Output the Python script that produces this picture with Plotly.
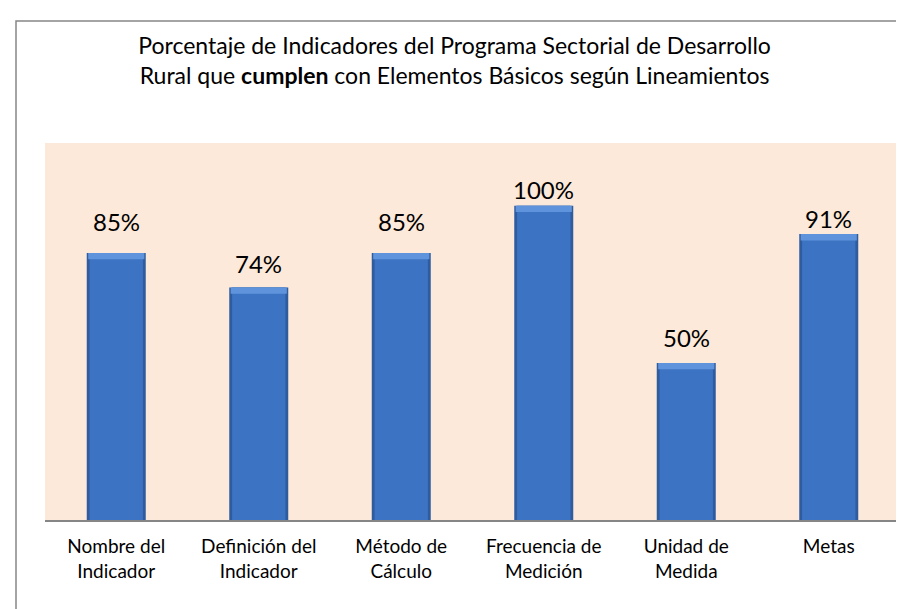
import plotly.graph_objects as go

categorias = ["Nombre del<br>Indicador", "Definición del<br>Indicador", "Método de<br>Cálculo",
              "Frecuencia de<br>Medición", "Unidad de<br>Medida", "Metas"]
porcentajes = [0.85, 0.74, 0.85, 1.00, 0.50, 0.91]
# distancia (px) del centro de la etiqueta a la barra, como en el original
desfase_etiqueta = [31, 24, 31, 16, 25, 16]

font = "Lato, 'Open Sans', sans-serif"
ancho = 0.414  # fracción de la categoría ocupada por la barra

fig = go.Figure()
# cuerpo de la barra (borde más oscuro)
fig.add_trace(go.Bar(x=categorias, y=porcentajes, width=ancho,
                     marker=dict(color="#2E5C9E", line=dict(width=0)), hoverinfo="skip"))
# relleno interior
fig.add_trace(go.Bar(x=categorias, y=porcentajes, width=ancho - 0.04,
                     marker=dict(color="#3D73C3", line=dict(width=0)), hoverinfo="skip"))
# bisel superior más claro
fig.add_trace(go.Bar(x=categorias, y=[0.02] * len(porcentajes),
                     base=[v - 0.02 for v in porcentajes], width=ancho - 0.02,
                     marker=dict(color="#5F93DB", line=dict(width=0)), hoverinfo="skip"))

for cat, val, off in zip(categorias, porcentajes, desfase_etiqueta):
    fig.add_annotation(x=cat, y=val, text=f"{val:.0%}", showarrow=False,
                       yanchor="middle", yshift=off,
                       font=dict(family=font, size=24, color="#000000"))

fig.update_layout(
    width=904, height=609,
    margin=dict(l=37, r=12, t=135, b=97),
    paper_bgcolor="white",
    plot_bgcolor="#FDE9D9",
    barmode="overlay",
    showlegend=False,
    title=dict(
        text="Porcentaje de Indicadores del Programa Sectorial de Desarrollo<br>"
             "Rural que <b>cumplen</b> con Elementos Básicos según Lineamientos",
        x=0.494, xanchor="center", y=0.925, yanchor="top",
        font=dict(family=font, size=23, color="#000000"),
    ),
    font=dict(family=font),
)

fig.update_xaxes(showline=True, linecolor="#868686", linewidth=2, ticks="",
                 tickfont=dict(family=font, size=19, color="#000000"),
                 ticklabelstandoff=8, showgrid=False)
fig.update_yaxes(range=[0, 1.2], visible=False, showgrid=False)

# marco exterior del gráfico
fig.add_shape(type="rect", xref="paper", yref="paper",
              x0=-29 / 855, x1=1.2, y0=-0.5, y1=499 / 377,
              line=dict(color="#868686", width=1.5), fillcolor="rgba(0,0,0,0)",
              layer="below")

fig.write_html("out.html")
